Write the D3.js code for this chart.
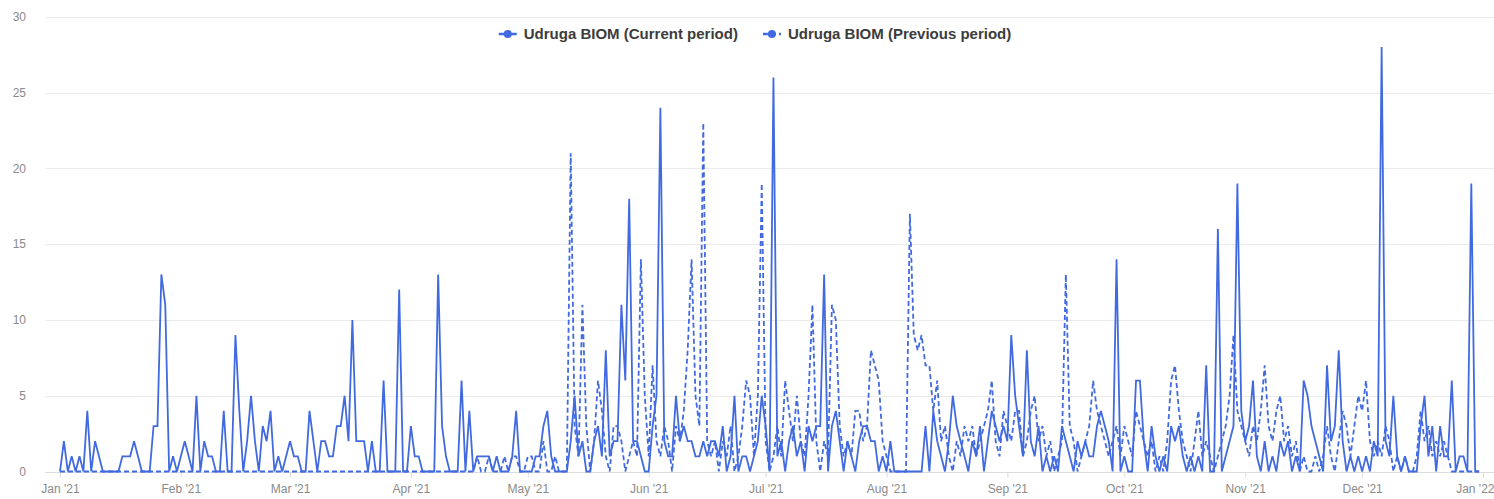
<!DOCTYPE html>
<html>
<head>
<meta charset="utf-8">
<script src="https://cdn.jsdelivr.net/npm/d3@7"></script>
<style>
  body { margin: 0; background: #fff; }
  svg { display: block; font-family: "Liberation Sans", Arial, sans-serif; }
</style>
</head>
<body>
<div id="chart"></div>
<script>
// daily values, 1 Jan 2021 .. 31 Dec 2021, one row per month
const currentPeriod = [
  0,2,0,1,0,1,0,4,0,2,1,0,0,0,0,0,1,1,1,2,1,0,0,0,3,3,13,11,0,1,0,
  1,2,1,0,5,0,2,1,1,0,0,4,0,0,9,4,0,2,5,2,0,3,2,4,0,1,0,1,
  2,1,1,0,0,4,2,0,2,2,1,1,3,3,5,2,10,2,2,2,0,2,0,0,6,0,0,0,12,0,0,
  3,1,1,0,0,0,0,13,3,1,0,0,0,6,0,4,0,1,1,1,1,0,1,0,0,0,1,4,0,0,
  0,0,1,1,3,4,1,0,0,0,0,2,5,1,2,0,0,2,3,1,8,1,2,2,11,6,18,2,2,1,0,
  0,3,5,24,2,1,1,5,2,3,2,2,1,1,2,1,2,2,1,3,0,1,5,0,1,1,0,1,2,5,
  3,0,26,1,2,0,2,3,1,2,0,3,2,3,3,13,0,3,4,2,0,2,1,0,2,3,3,2,2,0,1,
  0,2,0,0,0,0,0,0,0,0,3,0,4,2,1,0,2,5,3,2,1,0,2,1,3,0,2,4,3,2,3,
  2,9,5,3,1,8,2,1,3,0,1,0,1,0,3,2,1,0,2,1,2,1,1,3,4,3,2,0,14,0,
  1,0,0,6,6,2,0,3,1,0,1,0,3,2,3,1,0,1,0,1,0,7,0,0,16,0,1,2,3,19,4,
  2,3,6,1,0,2,0,1,0,2,1,2,0,1,0,6,5,3,2,1,0,7,2,3,8,2,0,1,0,1,
  0,1,0,2,1,28,2,1,5,1,0,1,0,0,0,3,5,1,3,0,3,1,1,6,0,1,1,0,19,0,0
];

const previousPeriod = [
  0,0,0,0,0,0,0,0,0,0,0,0,0,0,0,0,0,0,0,0,0,0,0,0,0,0,0,0,0,0,0,
  0,0,0,0,0,0,0,0,0,0,0,0,0,0,0,0,0,0,0,0,0,0,0,0,0,0,0,0,
  0,0,0,0,0,0,0,0,0,0,0,0,0,0,0,0,0,0,0,0,0,0,0,0,0,0,0,0,0,0,0,
  0,0,0,0,0,0,0,0,0,0,0,0,0,0,0,0,0,1,0,0,1,0,0,0,1,0,1,1,0,0,
  1,1,0,0,2,0,0,1,0,0,0,21,3,1,11,3,0,2,6,4,1,0,3,3,2,0,1,2,1,14,5,
  1,7,2,1,3,2,0,3,2,4,8,14,5,3,23,2,1,2,0,2,1,3,0,1,3,6,5,1,5,19,
  2,0,1,3,1,6,4,2,5,2,1,5,11,2,0,2,1,11,10,3,1,2,1,4,4,2,3,8,7,6,2,
  1,0,0,0,0,0,17,9,8,9,7,7,4,6,2,3,1,0,2,1,3,2,3,1,2,3,4,6,2,1,4,
  3,2,4,4,1,2,4,5,2,3,1,2,0,1,2,13,3,2,0,1,2,3,6,4,3,2,1,2,3,1,
  3,2,1,4,3,2,1,2,0,1,0,2,6,7,4,2,1,0,2,4,1,2,1,0,1,2,3,5,9,4,3,
  2,1,3,2,4,7,3,2,4,5,2,3,1,2,0,1,0,0,1,0,1,3,1,0,2,4,3,1,3,5,
  4,6,2,1,2,1,3,2,0,1,0,1,0,0,1,4,2,3,1,2,1,2,1,0,0,0,0,0,0,0,0
];

const seriesNames = ['Udruga BIOM (Current period)', 'Udruga BIOM (Previous period)'];
const yTicks = [0, 5, 10, 15, 20, 25, 30];
const startDate = new Date(2021, 0, 1);
const endDate = new Date(2022, 0, 1);

const width = 1494, height = 499;
const color = '#416ae0';

const svg = d3.select('#chart').append('svg')
    .attr('width', width)
    .attr('height', height);

const x = d3.scaleTime()
    .domain([startDate, endDate])
    .range([60, 1483]);

const y = d3.scaleLinear()
    .domain([0, 30])
    .range([471.5, 16.8]);

// horizontal grid
svg.append('g')
    .selectAll('line')
    .data(yTicks)
    .enter()
    .append('line')
    .attr('x1', 45)
    .attr('x2', width)
    .attr('y1', d => Math.round(y(d)) + 0.5)
    .attr('y2', d => Math.round(y(d)) + 0.5)
    .attr('stroke', d => d === 0 ? '#dcdcdc' : '#ebebeb')
    .attr('stroke-width', 1);

// y labels
svg.append('g')
    .selectAll('text')
    .data(yTicks)
    .enter()
    .append('text')
    .attr('x', 26)
    .attr('y', d => y(d))
    .attr('dy', '0.35em')
    .attr('text-anchor', 'end')
    .attr('font-size', 12)
    .attr('fill', '#8a8a8a')
    .text(d => d);

// x axis: month ticks
const xAxis = d3.axisBottom(x)
    .ticks(d3.timeMonth.every(1))
    .tickSize(5)
    .tickFormat(d3.timeFormat("%b '%y"));

const gx = svg.append('g')
    .attr('transform', `translate(0,${Math.round(y(0)) + 0.5})`)
    .call(xAxis);
gx.select('.domain').remove();
gx.selectAll('.tick line').attr('stroke', '#dcdcdc');
gx.selectAll('.tick text')
    .attr('y', 12)
    .attr('font-size', 12)
    .attr('font-family', '"Liberation Sans", Arial, sans-serif')
    .attr('fill', '#8a8a8a')
    .each(function(d) {
        const t = d3.select(this);
        const w = this.getComputedTextLength();
        if (x(d) + w / 2 > width) {
            t.attr('text-anchor', 'end').attr('x', width - x(d));
        }
    });

const toPoints = arr => arr.map((v, i) => ({ date: d3.timeDay.offset(startDate, i), value: v }));

const line = d3.line()
    .x(d => x(d.date))
    .y(d => y(d.value));

svg.append('path')
    .datum(toPoints(previousPeriod))
    .attr('fill', 'none')
    .attr('stroke', color)
    .attr('stroke-width', 1.8)
    .attr('stroke-dasharray', '5,3')
    .attr('d', line);

svg.append('path')
    .datum(toPoints(currentPeriod))
    .attr('fill', 'none')
    .attr('stroke', color)
    .attr('stroke-width', 1.8)
    .attr('d', line);

// legend
const legend = svg.append('g');
const items = legend.selectAll('g')
    .data(seriesNames)
    .enter()
    .append('g');

items.append('line')
    .attr('x1', 0).attr('x2', 18)
    .attr('y1', 0).attr('y2', 0)
    .attr('stroke', color)
    .attr('stroke-width', 2.5)
    .attr('stroke-dasharray', (d, i) => i === 1 ? '5,3' : null);
items.append('circle')
    .attr('cx', 9).attr('cy', 0).attr('r', 4)
    .attr('fill', color);
items.append('text')
    .attr('x', 25)
    .attr('dy', '0.35em')
    .attr('font-size', 15)
    .attr('font-weight', 'bold')
    .attr('fill', '#3c3c3c')
    .text(d => d);

let offset = 0;
items.each(function() {
    const g = d3.select(this);
    g.attr('transform', `translate(${offset},0)`);
    offset += 25 + g.select('text').node().getComputedTextLength() + 25;
});
const total = offset - 25;
legend.attr('transform', `translate(${755 - total / 2},34)`);
</script>
</body>
</html>
